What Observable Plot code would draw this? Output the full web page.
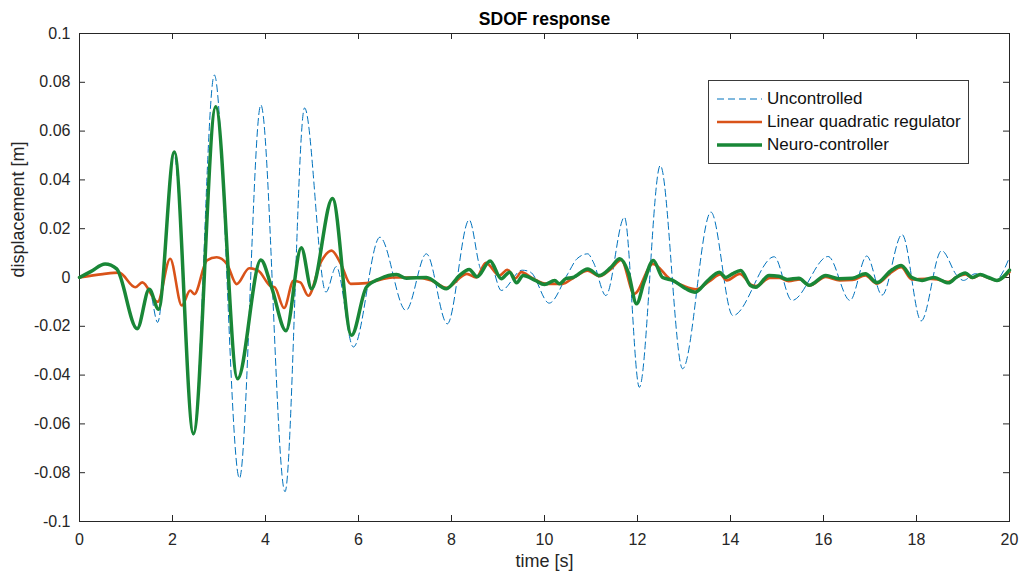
<!DOCTYPE html>
<html>
<head>
<meta charset="utf-8">
<script src="https://cdn.jsdelivr.net/npm/d3@7"></script>
<script src="https://cdn.jsdelivr.net/npm/@observablehq/plot@0.6"></script>
<style>
  html, body { margin: 0; padding: 0; background: #fff; }
  #wrap { position: relative; width: 1023px; height: 578px; font-family: "Liberation Sans", Arial, Helvetica, sans-serif; }
  #legend { position: absolute; left: 708px; top: 80px; width: 261px; height: 84px; box-sizing: border-box;
            border: 1px solid #3a3a3a; background: #fff; }
  .row { position: absolute; left: 0; height: 20px; display: flex; align-items: center; font-size: 17px; color: #111; }
  .row svg { margin-left: 8px; margin-right: 5px; }
</style>
</head>
<body>
<div id="wrap">
  <div id="chart"></div>
  <div id="legend"></div>
</div>
<script>
// ---- data ----
const seriesNames = ["Uncontrolled", "Linear quadratic regulator", "Neuro-controller"];
const seriesColors = ["#0072BD", "#D95319", "#198737"];

const tUncontrolled = [0, 0.25, 0.55, 0.8, 1.24, 1.5, 1.68, 2.03, 2.45, 2.9, 3.44, 3.9, 4.42, 4.84, 5.3, 5.52, 5.89, 6.46, 7.02, 7.46, 7.91, 8.38, 8.65, 8.82, 9.07, 9.52, 9.7, 10.1, 10.5, 10.7, 10.93, 11.05, 11.32, 11.72, 12.04, 12.49, 12.97, 13.58, 14.05, 14.94, 15.32, 16.1, 16.57, 16.93, 17.26, 17.69, 18.1, 18.54, 18.87, 19.01, 19.26, 19.48, 19.69, 20];
const vUncontrolled = [0, 0.0025, 0.0053, 0.0035, -0.0205, -0.005, -0.0184, 0.0505, -0.0645, 0.083, -0.0823, 0.0707, -0.0878, 0.0695, -0.006, 0.0045, -0.0285, 0.0165, -0.0135, 0.0097, -0.019, 0.0236, 0.003, 0.0063, -0.0053, 0.003, 0.0022, -0.0105, 0.0015, 0.0077, 0.0097, 0.0063, -0.0074, 0.0247, -0.045, 0.0459, -0.0374, 0.0268, -0.0156, 0.0085, -0.0094, 0.0086, -0.0094, 0.0088, -0.0072, 0.0176, -0.0178, 0.011, 0.0008, -0.0012, 0.0015, 0.0008, -0.0012, 0.0083];

const tLQR = [0, 0.5, 0.85, 1.2, 1.35, 1.68, 1.95, 2.2, 2.38, 2.47, 2.74, 2.95, 3.17, 3.38, 3.65, 3.85, 4.1, 4.2, 4.4, 4.6, 4.75, 4.92, 5.19, 5.42, 5.62, 5.83, 6.17, 6.74, 7.2, 7.57, 7.89, 8.33, 8.53, 8.74, 9.03, 9.2, 9.38, 9.5, 9.74, 10.06, 10.39, 10.61, 10.93, 11.18, 11.43, 11.65, 11.93, 12.33, 12.69, 13.0, 13.26, 13.55, 13.78, 13.92, 14.2, 14.45, 14.55, 14.85, 15.05, 15.25, 15.5, 15.7, 16.05, 16.35, 16.62, 16.9, 17.15, 17.45, 17.67, 17.9, 18.2, 18.45, 18.69, 18.85, 19.05, 19.2, 19.37, 19.55, 19.73, 20];
const vLQR = [0, 0.0014, 0.002, -0.004, -0.002, -0.010, 0.0077, -0.0115, -0.0053, -0.0068, 0.007, 0.0083, 0.0055, -0.0027, 0.0038, 0.0027, -0.0034, -0.004, -0.0125, -0.0014, -0.002, -0.0075, 0.0063, 0.011, 0.0056, -0.0026, -0.0023, 0, 0, -0.0012, -0.0042, 0.0015, 0, 0.006, 0.0008, 0.0032, -0.0003, 0.0022, -0.0003, -0.0026, -0.0026, -0.0003, 0.0028, 0.0005, 0.0035, 0.0072, -0.0067, 0.0056, -0.0005, -0.0035, -0.0048, -0.0015, 0.0012, -0.0012, 0.0015, -0.003, -0.0035, -0.0002, -0.0002, -0.0015, -0.0008, -0.0033, 0.0002, -0.0012, -0.001, 0.0008, -0.0025, 0.002, 0.0042, -0.0008, -0.0005, -0.0008, -0.0018, 0, 0.0012, -0.0002, 0.001, -0.0002, -0.0012, 0.0022];

const tNeuro = [0, 0.25, 0.55, 0.8, 1.24, 1.5, 1.7, 2.04, 2.45, 2.93, 3.4, 3.9, 4.13, 4.44, 4.77, 4.99, 5.44, 5.85, 6.17, 6.46, 6.82, 7.03, 7.46, 7.89, 8.17, 8.38, 8.55, 8.83, 9.07, 9.25, 9.4, 9.54, 9.8, 10.0, 10.22, 10.32, 10.46, 10.61, 10.93, 11.18, 11.43, 11.62, 11.8, 11.98, 12.14, 12.34, 12.54, 12.76, 13.04, 13.24, 13.5, 13.76, 13.9, 14.04, 14.22, 14.43, 14.54, 14.83, 15.04, 15.22, 15.47, 15.69, 16.05, 16.33, 16.62, 16.9, 17.15, 17.45, 17.67, 17.9, 18.12, 18.37, 18.69, 18.85, 19.05, 19.2, 19.37, 19.55, 19.73, 20];
const vNeuro = [0, 0.0025, 0.0055, 0.0035, -0.021, -0.0048, -0.013, 0.0514, -0.064, 0.070, -0.0415, 0.0072, -0.004, -0.0218, 0.0122, -0.0046, 0.0324, -0.0237, -0.004, -0.0005, 0.0012, -0.0003, 0, -0.0046, 0.0008, 0.0033, 0.0003, 0.0068, -0.0005, 0.0022, -0.0022, 0.0008, -0.0012, -0.0029, -0.0012, -0.0026, -0.0005, 0, 0.0035, 0.0008, 0.0042, 0.0077, 0.0022, -0.0108, -0.0019, 0.007, 0, -0.0012, -0.0046, -0.006, -0.0015, 0.0022, 0, 0.0015, 0.0029, -0.0033, -0.004, 0.0008, 0.0005, -0.0008, -0.0003, -0.0032, 0.0008, -0.0005, -0.0003, 0.0015, -0.0021, 0.0028, 0.0049, 0, -0.0012, 0, -0.0022, 0, 0.0018, 0, 0.0012, 0, -0.0012, 0.003];

const xTicks = [0, 2, 4, 6, 8, 10, 12, 14, 16, 18, 20];
const yTicks = [-0.1, -0.08, -0.06, -0.04, -0.02, 0, 0.02, 0.04, 0.06, 0.08, 0.1];

// ---- build tables ----
const toRows = (ts, vs) => ts.map((t, i) => ({t, v: vs[i]}));
const uncontrolled = toRows(tUncontrolled, vUncontrolled);
const lqr = toRows(tLQR, vLQR);
const neuro = toRows(tNeuro, vNeuro);

const W = 1023, H = 578, mL = 79, mR = 14, mT = 33, mB = 57;
const fW = W - mL - mR, fH = H - mT - mB;
const axisColor = "#262626";
const fmt = d => String(Math.round(d * 100) / 100);

const chart = Plot.plot({
  width: W, height: H,
  marginLeft: mL, marginRight: mR, marginTop: mT, marginBottom: mB,
  style: {fontFamily: "'Liberation Sans', Arial, Helvetica, sans-serif", color: axisColor, background: "#fff"},
  x: {domain: [0, 20]},
  y: {domain: [-0.1, 0.1]},
  marks: [
    Plot.frame({stroke: axisColor, strokeWidth: 1}),
    // inward ticks on all four sides
    Plot.ruleX(xTicks, {x: d => d, insetTop: fH - 6, stroke: axisColor}),
    Plot.ruleX(xTicks, {x: d => d, insetBottom: fH - 6, stroke: axisColor}),
    Plot.ruleY(yTicks, {y: d => d, insetRight: fW - 6, stroke: axisColor}),
    Plot.ruleY(yTicks, {y: d => d, insetLeft: fW - 6, stroke: axisColor}),
    Plot.axisX({ticks: xTicks, tickSize: 0, tickPadding: 12, tickFormat: fmt, fontSize: 16, label: null}),
    Plot.axisY({ticks: yTicks, tickSize: 0, tickPadding: 9, tickFormat: fmt, fontSize: 16, label: null}),
    // data
    Plot.line(uncontrolled, {x: "t", y: "v", stroke: seriesColors[0], strokeWidth: 1, strokeDasharray: "7,4", curve: "monotone-x"}),
    Plot.line(lqr, {x: "t", y: "v", stroke: seriesColors[1], strokeWidth: 2.6, curve: "monotone-x"}),
    Plot.line(neuro, {x: "t", y: "v", stroke: seriesColors[2], strokeWidth: 3.5, curve: "monotone-x"}),
    // titles
    Plot.text(["SDOF response"], {frameAnchor: "top", dy: -21, fontWeight: "bold", fontSize: 17.5, fill: "#000"}),
    Plot.text(["time [s]"], {frameAnchor: "bottom", dy: 45, fontSize: 18, fill: axisColor}),
    Plot.text(["displacement [m]"], {frameAnchor: "left", dx: -61, rotate: -90, fontSize: 18, fill: axisColor})
  ]
});
document.getElementById("chart").appendChild(chart);

// ---- legend ----
const legend = document.getElementById("legend");
const rowTops = [8, 31, 54];
seriesNames.forEach((name, i) => {
  const row = document.createElement("div");
  row.className = "row";
  row.style.top = rowTops[i] + "px";
  const sw = i === 0 ? 1 : (i === 1 ? 2.6 : 3.5);
  const dash = i === 0 ? 'stroke-dasharray="7,4"' : "";
  row.innerHTML = `<svg width="45" height="10"><line x1="0" y1="5" x2="45" y2="5" stroke="${seriesColors[i]}" stroke-width="${sw}" ${dash}/></svg><span>${name}</span>`;
  legend.appendChild(row);
});
</script>
</body>
</html>
